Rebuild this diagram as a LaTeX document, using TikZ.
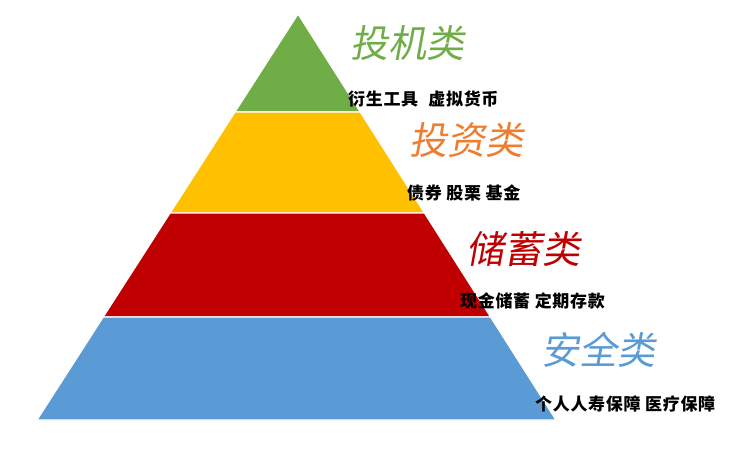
\documentclass[tikz,border=0pt]{standalone}
\usepackage{fontspec}
\usepackage{xcolor}
\usepackage{tikz}
\usetikzlibrary{calc,positioning}
\newfontfamily\cjk[LetterSpace=4]{Noto Sans CJK SC}
\newfontfamily\cjktitle[FakeSlant=0.18]{Noto Sans CJK SC}
\definecolor{pyGreen} {RGB}{112,173, 71}
\definecolor{pyYellow}{RGB}{255,192,  0}
\definecolor{pyRed}   {RGB}{192,  0,  0}
\definecolor{pyBlue}  {RGB}{ 91,155,213}
\definecolor{pyOrange}{RGB}{237,125, 49}

\begin{document}
\begin{tikzpicture}[
  x=1pt,y=-1pt,
  layer/.style={draw=white,line width=1.2pt,line join=miter},
  title/.style={font=\cjktitle\fontsize{38}{38}\selectfont,inner sep=0pt},
  items/.style={font=\cjk\bfseries\fontsize{17}{17}\selectfont,anchor=west,inner sep=0pt}
]
\useasboundingbox (0,0) rectangle (746,461);
\coordinate (apex) at (298,14);
\coordinate (bl) at (37,420);
\coordinate (br) at (556,420);
% layer boundaries
\coordinate (l1) at ($(apex)!0.2414!(bl)$);
\coordinate (r1) at ($(apex)!0.2414!(br)$);
\coordinate (l2) at ($(apex)!0.4901!(bl)$);
\coordinate (r2) at ($(apex)!0.4901!(br)$);
\coordinate (l3) at ($(apex)!0.7463!(bl)$);
\coordinate (r3) at ($(apex)!0.7463!(br)$);
% pyramid layers
\filldraw[layer,fill=pyGreen]  (apex) -- (r1) -- (l1) -- cycle;
\filldraw[layer,fill=pyYellow] (l1) -- (r1) -- (r2) -- (l2) -- cycle;
\filldraw[layer,fill=pyRed]    (l2) -- (r2) -- (r3) -- (l3) -- cycle;
\filldraw[layer,fill=pyBlue]   (l3) -- (r3) -- (br) -- (bl) -- cycle;
% labels
\node[title,text=pyGreen]  (t1) at (407,43)  {投机类};
\node[title,text=pyOrange] (t2) at (466,140) {投资类};
\node[title,text=pyRed]    (t3) at (523,249) {储蓄类};
\node[title,text=pyBlue]   (t4) at (598,350) {安全类};
\node[items] (s1) at (348,99)  {衍生工具\hspace{0.6em}虚拟货币};
\node[items] (s2) at (407,193) {债券 股栗 基金};
\node[items] (s3) at (460,301) {现金储蓄 定期存款};
\node[items] (s4) at (535,404) {个人人寿保障 医疗保障};
\end{tikzpicture}
\end{document}
